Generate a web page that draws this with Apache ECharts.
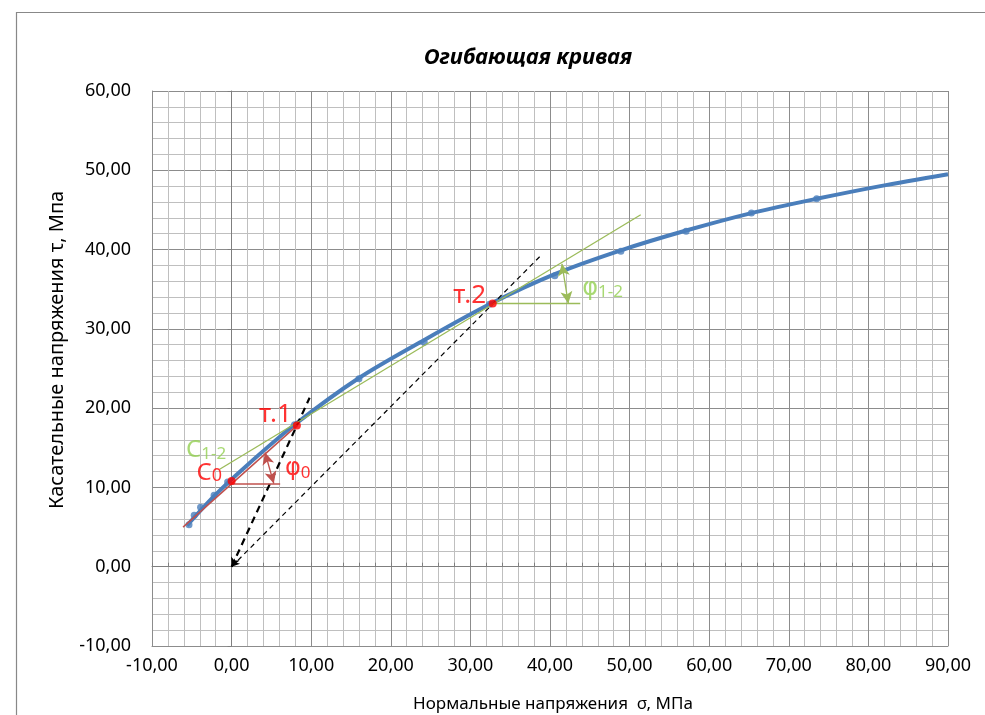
<!DOCTYPE html>
<html>
<head>
<meta charset="utf-8">
<script src="https://cdn.jsdelivr.net/npm/echarts@6/dist/echarts.min.js"></script>
<style>
  html, body { margin: 0; padding: 0; background: #fff; }
  #chart { width: 985px; height: 715px; }
</style>
</head>
<body>
<div id="chart"></div>
<script>
// Measured points of the shear envelope: normal stress σ (MPa) and shear stress τ (MPa)
const pointSigma = [-5.35, -4.7, -3.9, -2.2, -0.5, 7.9, 16.0, 24.2, 32.4, 40.6, 48.9, 57.1, 65.3, 73.5];
const pointTau   = [5.3, 6.5, 7.5, 9.0, 10.7, 17.9, 23.7, 28.3, 33.1, 36.7, 39.8, 42.3, 44.6, 46.4];

// Envelope curve
const curveSigma = [-5.6, -2.2, 1.5, 7.9, 16.0, 24.2, 32.4, 40.6, 48.9, 57.1, 65.3, 73.5, 81.5, 90.0];
const curveTau   = [5.2, 8.9, 12.4, 17.9, 23.8, 28.6, 33.1, 36.9, 39.9, 42.4, 44.6, 46.4, 48.0, 49.5];

// Key points: cohesion C0, point 1, point 2
const keySigma = [0.0, 8.2, 32.8];
const keyTau   = [10.8, 17.8, 33.2];

// Construction segments [σ1, τ1, σ2, τ2]
const redSlope   = [-6.1, 5.0, 8.2, 17.8];
const redLevel   = [0.0, 10.5, 6.1, 10.5];
const redAngle   = [4.2, 14.4, 5.3, 10.5];
const greenSlope = [-1.5, 12.3, 51.4, 44.4];
const greenLevel = [32.8, 33.2, 43.8, 33.2];
const greenAngle = [41.5, 38.2, 42.3, 33.2];
const rayToPoint1 = [0.0, 0.0, 9.8, 21.3];
const rayToPoint2 = [0.0, 0.0, 39.0, 39.4];

// Annotation text anchors [σ, τ]
const tagPoint1 = [5.5, 19.6];
const tagPoint2 = [29.9, 34.6];
const tagC0     = [-2.8, 12.3];
const tagC12    = [-3.2, 15.2];
const tagPhi0   = [8.3, 12.8];
const tagPhi12  = [46.6, 35.6];

// Axis ranges
const sigmaMin = -10, sigmaMax = 90, sigmaStep = 10;
const tauMin = -10, tauMax = 60, tauStep = 10;

const FONT = '"Noto Sans", "Open Sans", sans-serif';
const PHI_FONT = '"DejaVu Sans", "Noto Sans", sans-serif';
const fmt = v => v.toFixed(2).replace('.', ',');
const zip = (a, b) => a.map((v, i) => [v, b[i]]);

const RED = '#ff0000';
const RED_LINE = '#c0504d';
const GREEN_LINE = '#9bbb59';
const GREEN_TEXT = '#92d050';
const BLUE = '#4a7ebb';

function seg(s, style, symbols, symbolSize) {
  return {
    type: 'line', data: [], silent: true,
    markLine: {
      silent: true, animation: false,
      symbol: symbols || ['none', 'none'],
      symbolSize: symbolSize || 8,
      label: { show: false },
      emphasis: { disabled: true },
      lineStyle: style,
      data: [[{ coord: [s[0], s[1]] }, { coord: [s[2], s[3]] }]]
    }
  };
}

function tag(pos, text, rich) {
  return {
    type: 'scatter', silent: true, symbolSize: 0,
    data: [pos],
    label: { show: true, position: 'inside', formatter: text, rich: rich },
    z: 10
  };
}

function richSet(color, big, small, mainFont) {
  return {
    m: { color: color, fontFamily: mainFont || FONT, fontSize: big, lineHeight: 32, verticalAlign: 'bottom' },
    s: { color: color, fontFamily: FONT, fontSize: small, lineHeight: 24, verticalAlign: 'bottom' }
  };
}

const chart = echarts.init(document.getElementById('chart'), null, { renderer: 'canvas' });

const gridLineMajor = '#8c8c8c';
const gridLineMinor = '#bfbfbf';

chart.setOption({
  animation: false,
  backgroundColor: '#ffffff',
  graphic: [
    { type: 'rect', left: 14, top: 10, shape: { width: 1020, height: 720 },
      style: { fill: 'none', stroke: '#888', lineWidth: 1.2 }, silent: true, z: -10 },
    { type: 'text', x: 528, y: 58, silent: true,
      style: { text: 'Огибающая кривая', fontFamily: FONT, fontSize: 22, fontWeight: 'bold',
               fontStyle: 'italic', fill: '#000', align: 'center', verticalAlign: 'middle' } },
    { type: 'text', x: 553, y: 704, silent: true,
      style: { text: 'Нормальные напряжения  σ, МПа', fontFamily: FONT, fontSize: 17,
               fill: '#000', align: 'center', verticalAlign: 'middle' } },
    { type: 'text', x: 57, y: 350, rotation: Math.PI / 2, silent: true,
      style: { text: 'Касательные напряжения τ, Мпа', fontFamily: FONT, fontSize: 20,
               fill: '#000', align: 'center', verticalAlign: 'middle' } }
  ],
  grid: { left: 152, top: 91, right: 37, bottom: 69, show: false },
  xAxis: [
    {
      type: 'value', min: sigmaMin, max: sigmaMax, interval: sigmaStep,
      axisLine: { onZero: false, lineStyle: { color: gridLineMajor } },
      axisTick: { show: false },
      axisLabel: { formatter: fmt, fontFamily: FONT, fontSize: 18, color: '#000', margin: 11 },
      splitLine: { show: true, lineStyle: { color: gridLineMajor, width: 1 } },
      minorTick: { show: false, splitNumber: 5 },
      minorSplitLine: { show: true, lineStyle: { color: gridLineMinor, width: 1 } }
    },
    {
      type: 'value', min: sigmaMin, max: sigmaMax, interval: sigmaStep,
      axisLine: { show: true, onZero: true, lineStyle: { color: '#7f7f7f' } },
      axisTick: { show: true, length: 4, lineStyle: { color: '#7f7f7f' } },
      minorTick: { show: true, splitNumber: 5, length: 4, lineStyle: { color: '#7f7f7f' } },
      axisLabel: { show: false },
      splitLine: { show: false }
    }
  ],
  yAxis: [
    {
      type: 'value', min: tauMin, max: tauMax, interval: tauStep,
      axisLine: { show: true, onZero: false, lineStyle: { color: gridLineMajor } },
      axisTick: { show: false },
      axisLabel: { formatter: fmt, fontFamily: FONT, fontSize: 18, color: '#000', margin: 21 },
      splitLine: { show: true, lineStyle: { color: gridLineMajor, width: 1 } },
      minorTick: { show: false, splitNumber: 5 },
      minorSplitLine: { show: true, lineStyle: { color: gridLineMinor, width: 1 } }
    },
    {
      type: 'value', min: tauMin, max: tauMax, interval: tauStep, position: 'left',
      axisLine: { show: true, onZero: true, lineStyle: { color: '#7f7f7f' } },
      axisTick: { show: true, length: 4, lineStyle: { color: '#7f7f7f' } },
      axisLabel: { show: false },
      splitLine: { show: false }
    }
  ],
  series: [
    // construction lines
    seg(rayToPoint1, { color: '#000', width: 2.2, type: [7, 5] }, ['arrow', 'none'], [7, 9]),
    seg(rayToPoint2, { color: '#000', width: 1.2, type: [5, 4] }, ['arrow', 'none'], [6, 8]),
    seg(greenSlope, { color: GREEN_LINE, width: 1.3, type: 'solid' }),
    seg(greenLevel, { color: GREEN_LINE, width: 1.3, type: 'solid' }),
    seg(greenAngle, { color: GREEN_LINE, width: 1.3, type: 'solid' }, ['arrow', 'arrow'], [9, 12]),
    {
      type: 'line', name: 'curve', data: zip(curveSigma, curveTau),
      smooth: 0.3, showSymbol: false, symbol: 'none', silent: true,
      lineStyle: { color: BLUE, width: 4 }, z: 3
    },
    {
      type: 'scatter', name: 'points', data: zip(pointSigma, pointTau),
      symbol: 'circle', symbolSize: 7, silent: true,
      itemStyle: { color: BLUE }, z: 4
    },
    seg(redSlope, { color: RED_LINE, width: 1.5, type: 'solid' }),
    seg(redLevel, { color: RED_LINE, width: 1.5, type: 'solid' }),
    seg(redAngle, { color: RED_LINE, width: 1.3, type: 'solid' }, ['arrow', 'arrow'], [9, 12]),
    {
      type: 'scatter', name: 'key', data: zip(keySigma, keyTau),
      symbol: 'circle', symbolSize: 8, silent: true,
      itemStyle: { color: '#ff0000' }, z: 6
    },
    // annotation text
    tag(tagPoint1, '{m|т.1}', richSet(RED, 26, 17)),
    tag(tagPoint2, '{m|т.2}', richSet(RED, 26, 17)),
    tag(tagC0, '{m|C}{s|0}', richSet(RED, 24, 18)),
    tag(tagC12, '{m|C}{s|1-2}', richSet(GREEN_TEXT, 24, 17)),
    tag(tagPhi0, '{m|φ}{s|0}', richSet(RED, 24, 17, PHI_FONT)),
    tag(tagPhi12, '{m|φ}{s|1-2}', richSet(GREEN_TEXT, 24, 17, PHI_FONT))
  ]
});
</script>
</body>
</html>
